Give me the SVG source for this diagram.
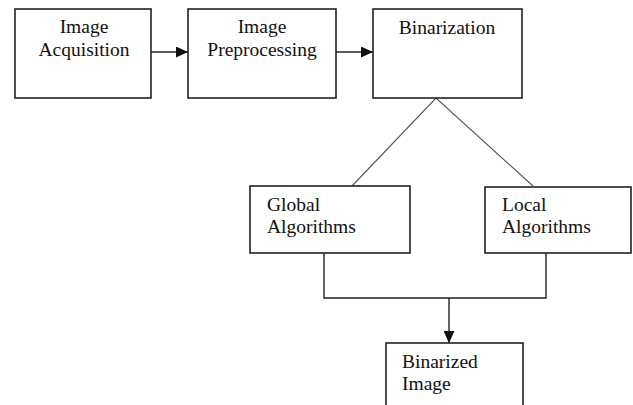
<svg xmlns="http://www.w3.org/2000/svg" width="633" height="405" viewBox="0 0 633 405">
<defs>
<marker id="ah" markerWidth="12" markerHeight="11" refX="12" refY="5.5" orient="auto" markerUnits="userSpaceOnUse">
<path d="M0,0 L12,5.5 L0,11 Z" fill="#111"/>
</marker>
<style>
.box{fill:#fff;stroke:#222;stroke-width:1.6}
.t{font-family:"Liberation Serif","Times New Roman",serif;font-size:19.5px;fill:#111}
.c{text-anchor:middle}
.ln{fill:none;stroke:#222;stroke-width:1.4}
.dg{fill:none;stroke:#555;stroke-width:1.1}
</style>
</defs>
<rect width="633" height="405" fill="#fff"/>
<g id="connectors">
<line class="ln" x1="151" y1="52" x2="188" y2="52" marker-end="url(#ah)"/>
<line class="ln" x1="336" y1="52" x2="373" y2="52" marker-end="url(#ah)"/>
<path class="dg" d="M352,186 L436,98 L533,186"/>
<path class="ln" d="M324,253 V298 H546 V253"/>
<line class="ln" x1="449" y1="298" x2="449" y2="343" marker-end="url(#ah)"/>
</g>
<g id="acquisition">
<rect class="box" x="15" y="9" width="136" height="89"/>
<text class="t c" x="84" y="33">Image</text>
<text class="t c" x="84" y="56">Acquisition</text>
</g>
<g id="preprocessing">
<rect class="box" x="188" y="9" width="148" height="89"/>
<text class="t c" x="262" y="33">Image</text>
<text class="t c" x="262" y="56">Preprocessing</text>
</g>
<g id="binarization">
<rect class="box" x="373" y="9" width="149" height="89"/>
<text class="t c" x="447" y="34">Binarization</text>
</g>
<g id="global">
<rect class="box" x="250" y="186" width="160" height="67"/>
<text class="t" x="267" y="211">Global</text>
<text class="t" x="267" y="233">Algorithms</text>
</g>
<g id="local">
<rect class="box" x="485" y="187" width="146" height="66"/>
<text class="t" x="502" y="211">Local</text>
<text class="t" x="502" y="233">Algorithms</text>
</g>
<g id="binarized">
<rect class="box" x="386" y="343" width="137" height="70"/>
<text class="t" x="402" y="368">Binarized</text>
<text class="t" x="402" y="390">Image</text>
</g>
</svg>
